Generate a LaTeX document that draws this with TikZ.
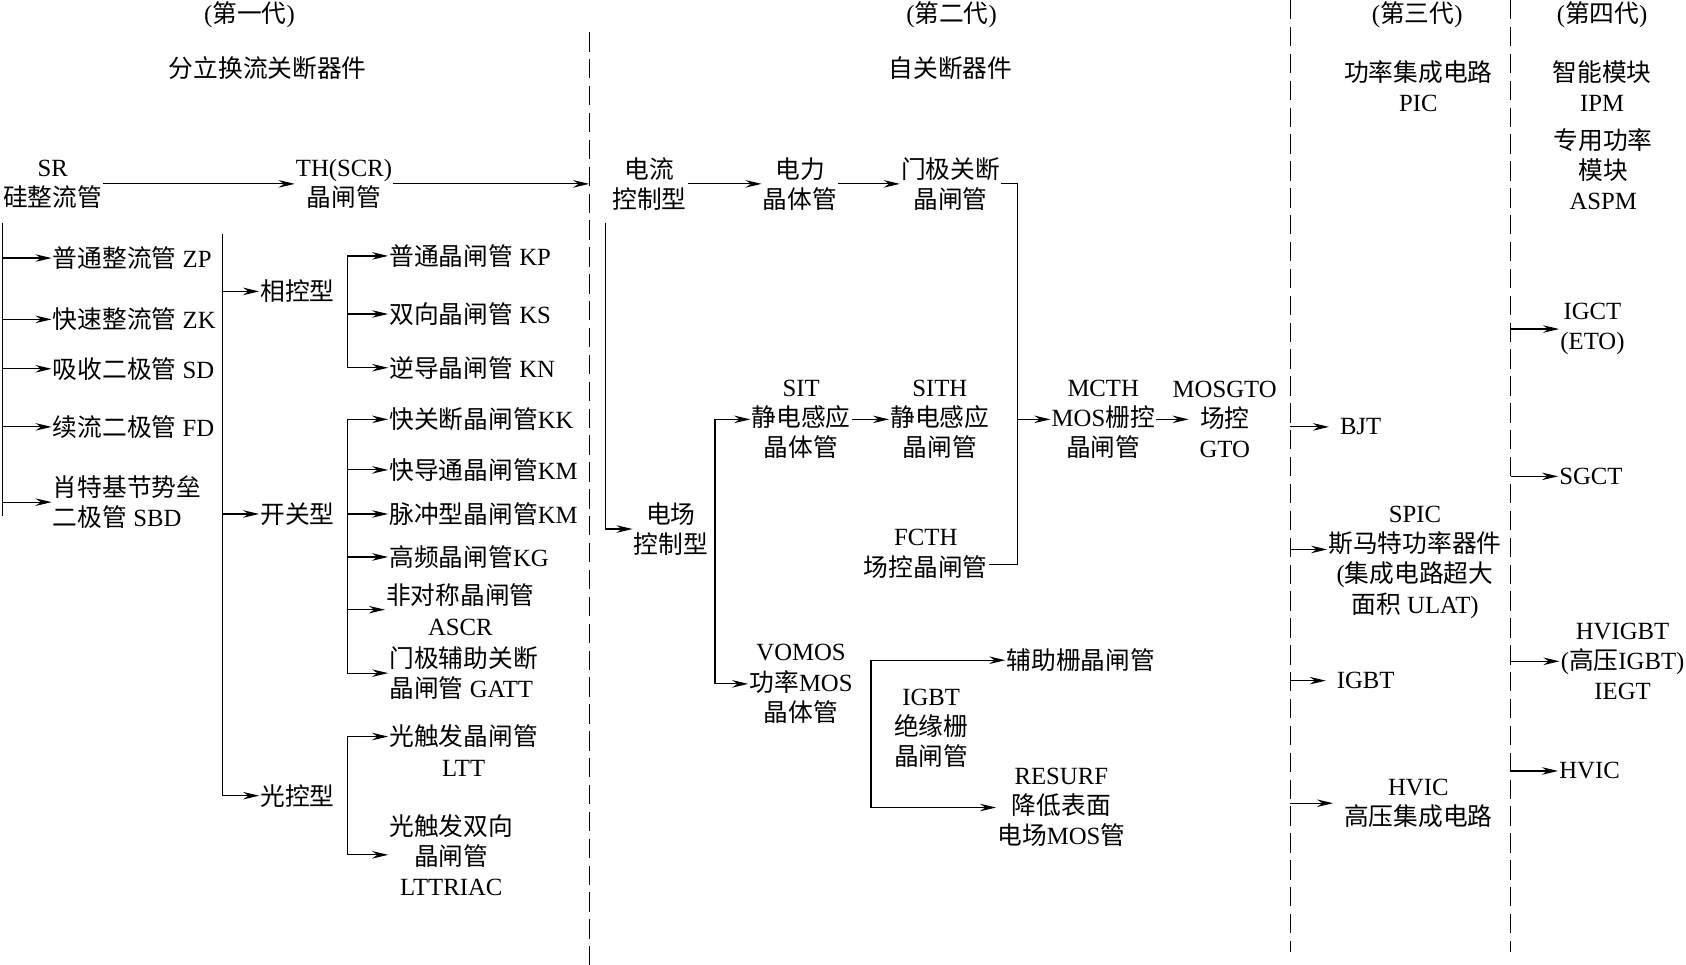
\documentclass[tikz,border=0pt]{standalone}
\usepackage{fontspec}
\setmainfont{Liberation Serif}
\newfontfamily\cjk{Noto Sans CJK SC}
\newcommand{\zh}[1]{{\cjk #1}}
\usetikzlibrary{arrows.meta,positioning}

\begin{document}
\begin{tikzpicture}[x=1pt,y=-1pt,txt/.style={inner sep=1pt,align=center,font=\fontsize{23}{28}\selectfont},ltxt/.style={txt,anchor=west,align=left},arr/.style={-{Stealth[length=15pt,width=7pt,inset=5pt]},line width=1.1pt},link/.style={line width=1.1pt},gen/.style={line width=1pt,dash pattern=on 18pt off 7pt}]
\useasboundingbox (0,0) rectangle (1568,897);
\node[txt] (h1) at (232,14) {(\zh{第一代})};
\node[txt] (h1n) at (249,63) {\zh{分立换流关断器件}};
\node[txt] (h2) at (885,14) {(\zh{第二代})};
\node[txt] (h2n) at (884,63) {\zh{自关断器件}};
\node[txt] (h3) at (1318,14) {(\zh{第三代})};
\node[txt] (h3n) at (1319,80) {\zh{功率集成电路}\\PIC};
\node[txt] (h4) at (1490,14) {(\zh{第四代})};
\node[txt] (h4n) at (1490,80) {\zh{智能模块}\\IPM};
\node[txt] (h4m) at (1491,157) {\zh{专用功率}\\\zh{模块}\\ASPM};
\coordinate (g1t) at (548,30);
\coordinate (g1b) at (548,897);
\coordinate (g3t) at (1200,0);
\coordinate (g3b) at (1200,885);
\coordinate (g4t) at (1405,0);
\coordinate (g4b) at (1405,885);
\draw[gen] (g1t) -- (g1b);
\draw[gen] (g3t) -- (g3b);
\draw[gen] (g4t) -- (g4b);

\node[txt] (sr) at (49,171) {SR\\\zh{硅整流管}};
\node[txt] (th) at (320,171) {TH(SCR)\\\zh{晶闸管}};
\node[ltxt] (zp) at (48,240) {\zh{普通整流管} ZP};
\node[ltxt] (zk) at (48,297) {\zh{快速整流管} ZK};
\node[ltxt] (sd) at (48,343) {\zh{吸收二极管} SD};
\node[ltxt] (fd) at (48,397) {\zh{续流二极管} FD};
\node[ltxt] (sbd) at (48,467) {\zh{肖特基节势垒}\\\zh{二极管} SBD};
\node[ltxt] (pc) at (241,271) {\zh{相控型}};
\node[ltxt] (sw) at (241,478) {\zh{开关型}};
\node[ltxt] (lc) at (241,740) {\zh{光控型}};
\node[ltxt] (kp) at (361,238) {\zh{普通晶闸管} KP};
\node[ltxt] (ks) at (361,292) {\zh{双向晶闸管} KS};
\node[ltxt] (kn) at (361,342) {\zh{逆导晶闸管} KN};
\node[ltxt] (kk) at (361,390) {\zh{快关断晶闸管}KK};
\node[ltxt] (km) at (361,437) {\zh{快导通晶闸管}KM};
\node[ltxt] (kmp) at (361,478) {\zh{脉冲型晶闸管}KM};
\node[ltxt] (kg) at (361,518) {\zh{高频晶闸管}KG};
\node[txt,anchor=west] (ascr) at (358,567) {\zh{非对称晶闸管}\\ASCR};
\node[ltxt] (gatt) at (361,626) {\zh{门极辅助关断}\\\zh{晶闸管} GATT};
\node[txt,anchor=west] (ltt) at (361,698) {\zh{光触发晶闸管}\\LTT};
\node[txt,anchor=west] (lttriac) at (361,795) {\zh{光触发双向}\\\zh{晶闸管}\\LTTRIAC};
\coordinate (sx) at (2,207);
\coordinate (sxe) at (2,480);
\coordinate (kx) at (207,218);
\coordinate (px) at (323,238);
\coordinate (lttin) at ([yshift=13pt]ltt.west);
\draw[arr] (sr) -- (th);
\draw[arr] (th) -- (th -| g1t);
\draw[link] (sx) -- (sxe);
\foreach \n in {zp,zk,sd,fd,sbd} \draw[arr] (sx |- \n.west) -- (\n.west);
\draw[arr] (kx) |- (lc.west);
\foreach \n in {pc,sw} \draw[arr] (kx |- \n.west) -- (\n.west);
\draw[arr] (px |- kn.west) |- (kp.west);
\foreach \n in {ks,kn} \draw[arr] (px |- \n.west) -- (\n.west);
\draw[arr] (px |- gatt.west) |- (kk.west);
\foreach \n in {km,kmp,kg,ascr,gatt} \draw[arr] (px |- \n.west) -- (\n.west);
\draw[arr] (px |- lttriac.west) |- (lttin);
\draw[arr] (px |- lttriac.west) -- (lttriac.west);

\node[txt] (cur) at (604,171) {\zh{电流}\\\zh{控制型}};
\node[txt] (ptr) at (744,171) {\zh{电力}\\\zh{晶体管}};
\node[txt] (gto) at (884,171) {\zh{门极关断}\\\zh{晶闸管}};
\node[txt] (fld) at (624,492) {\zh{电场}\\\zh{控制型}};
\node[txt] (sit) at (745,390) {SIT\\\zh{静电感应}\\\zh{晶体管}};
\node[txt] (sith) at (874,390) {SITH\\\zh{静电感应}\\\zh{晶闸管}};
\node[txt] (fcth) at (861,515) {FCTH\\\zh{场控晶闸管}};
\node[txt] (mcth) at (1026,390) {MCTH\\MOS\zh{栅控}\\\zh{晶闸管}};
\node[txt] (mosgto) at (1139,390) {MOSGTO\\\zh{场控}\\GTO};
\node[txt] (vomos) at (745,636) {VOMOS\\\zh{功率}MOS\\\zh{晶体管}};
\node[txt] (igbt) at (866,677) {IGBT\\\zh{绝缘栅}\\\zh{晶闸管}};
\node[ltxt] (agt) at (935,614) {\zh{辅助栅晶闸管}};
\node[txt] (resurf) at (987,751) {RESURF\\\zh{降低表面}\\\zh{电场}MOS\zh{管}};
\coordinate (cx) at (563,207);
\coordinate (fx) at (665,390);
\coordinate (mx) at (946,525);
\coordinate (bx) at (810,614);
\draw[arr] (cur) -- (ptr);
\draw[arr] (ptr) -- (gto);
\draw[arr] (cx) |- (fld.west);
\draw[arr] (fx |- vomos.west) |- (sit.west);
\draw[arr] (fx |- vomos.west) -- (vomos.west);
\draw[arr] (sit) -- (sith);
\draw[link] (gto.east) -| (mx) -- (mx -| fcth.east);
\draw[arr] (mx |- mcth.west) -- (mcth.west);
\draw[arr] (mcth) -- ([xshift=16pt]mosgto.west);
\draw[arr] (bx |- resurf.west) |- (agt.west);
\draw[arr] (bx |- resurf.west) -- (resurf.west);

\node[ltxt] (bjt) at (1245,397) {BJT};
\node[txt] (spic) at (1316,523) {SPIC\\\zh{斯马特功率器件}\\(\zh{集成电路超大}\\\zh{面积} ULAT)};
\node[ltxt] (igbt3) at (1242,633) {IGBT};
\node[txt] (hvic3) at (1319,747) {HVIC\\\zh{高压集成电路}};
\coordinate (spicin) at ([yshift=12pt]spic.west);
\foreach \n in {bjt,igbt3,hvic3} \draw[arr,shorten >=9pt] (g3t |- \n.west) -- (\n.west);
\draw[arr] (g3t |- spicin) -- (spicin);

\node[txt] (igct) at (1481,306) {IGCT\\(ETO)};
\node[ltxt] (sgct) at (1449,443) {SGCT};
\node[txt] (hvigbt) at (1509,615) {HVIGBT\\(\zh{高压}IGBT)\\IEGT};
\node[ltxt] (hvic4) at (1449,717) {HVIC};
\foreach \n in {igct,sgct,hvigbt,hvic4} \draw[arr] (g4t |- \n.west) -- (\n.west);
\end{tikzpicture}
\end{document}
